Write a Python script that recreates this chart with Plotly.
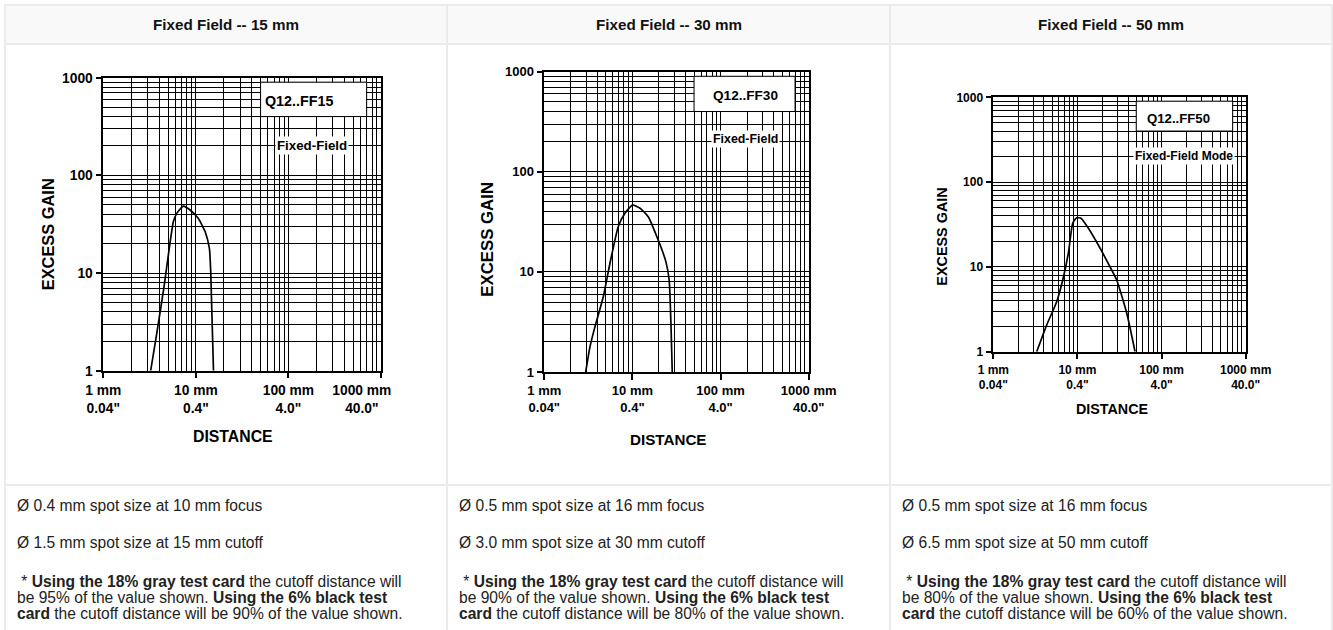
import math
import plotly.graph_objects as go

W, H = 1333, 630

# ---------------- data ----------------
headers = ["Fixed Field -- 15 mm", "Fixed Field -- 30 mm", "Fixed Field -- 50 mm"]
models = ["Q12..FF15", "Q12..FF30", "Q12..FF50"]
modes = ["Fixed-Field", "Fixed-Field", "Fixed-Field Mode"]

ff15_dist = [3.25, 3.78, 4.53, 5.71, 6.22, 7.33, 8.65, 10.6, 12.6, 14.0, 14.5, 15.5]
ff15_gain = [1, 2.41, 7.24, 33.5, 40.8, 48.5, 44.2, 36.3, 26.5, 17.9, 9.9, 1]

ff30_dist = [2.95, 3.30, 3.76, 4.67, 5.56, 6.9, 8.22, 10.05, 12.2, 15.1, 19.6, 24.0, 26.1, 28.3]
ff30_gain = [1, 1.79, 2.84, 5.65, 12.2, 28.3, 38.5, 46.6, 43.2, 35.6, 20.8, 12.6, 8.3, 1]

ff50_dist = [3.28, 4.31, 5.67, 6.69, 7.8, 8.79, 9.8, 11.0, 13.5, 18.6, 24.4, 29.3, 38.6, 48.4]
ff50_gain = [1, 2.06, 3.89, 7.0, 14.5, 32.7, 38, 37.4, 28.5, 16.6, 10, 7.0, 2.84, 1]

x_tickvals = [1, 10, 100, 1000]
x_ticktext = ['1 mm<br>0.04"', '10 mm<br>0.4"', '100 mm<br>4.0"', '1000 mm<br>40.0"']
y_tickvals = [1, 10, 100, 1000]
y_ticktext = ["1", "10", "100", "1000"]
minor_vals = [m * 10 ** e for e in range(3) for m in range(2, 10)]

spot_focus = ["Ø 0.4 mm spot size at 10 mm focus",
              "Ø 0.5 mm spot size at 16 mm focus",
              "Ø 0.5 mm spot size at 16 mm focus"]
spot_cutoff = ["Ø 1.5 mm spot size at 15 mm cutoff",
               "Ø 3.0 mm spot size at 30 mm cutoff",
               "Ø 6.5 mm spot size at 50 mm cutoff"]
gray_pct = ["95%", "90%", "80%"]
black_pct = ["90%", "80%", "60%"]

# white label box region (data coords)
box_x = [50, 700]
box_y = [400, 900]

# ---------------- layout geometry (pixels) ----------------
def px(x):
    return x / W

def py(y):
    return 1 - y / H

areas = [(103.3, 381.0, 77.7, 370.7),
         (544.3, 808.7, 71.7, 372.0),
         (993.3, 1245.7, 97.3, 351.7)]
tick_font = [13.8, 13, 12]
ygain_font = [16.4, 16.8, 14.4]
dist_font = [15.8, 15.2, 14.3]
model_font = [14.3, 13.6, 13.2]
mode_font = [13.3, 12.4, 12]
ylabel_pos = [(48.3, 234), (486.7, 239), (941.7, 237)]
dist_pos = [(233.3, 436.7), (668.3, 439), (1111.7, 409)]
model_pos = [(130, 580), (193, 585), (158, 565)]
mode_pos = [(179, 203), (191, 211), (184, 203)]
# the first chart's last distance label sits left of its tick in the reference
last_label_pad = [10, 0, 0]

BOLD = "Liberation Sans, Arial, Helvetica, sans-serif"
BODY = "Liberation Sans, Arial, Helvetica, sans-serif"

fig = go.Figure()
series = [(ff15_dist, ff15_gain), (ff30_dist, ff30_gain), (ff50_dist, ff50_gain)]

shapes = []
annotations = []

# table frame
border = "#ebebeb"
col_x = [5, 447, 890, 1332]
shapes.append(dict(type="rect", xref="paper", yref="paper", x0=px(5), x1=px(1332), y0=py(44), y1=py(5),
                   fillcolor="#f9f9f9", line=dict(color=border, width=2), layer="below"))
for cx in col_x:
    shapes.append(dict(type="line", xref="paper", yref="paper", x0=px(cx), x1=px(cx), y0=py(5), y1=py(640),
                       line=dict(color=border, width=2)))
shapes.append(dict(type="line", xref="paper", yref="paper", x0=px(5), x1=px(1332), y0=py(485), y1=py(485),
                   line=dict(color=border, width=2)))

for i, (dx, gy) in enumerate(series):
    n = "" if i == 0 else str(i + 1)
    xa, ya = "x" + n, "y" + n
    l, r, t, b = areas[i]
    fig.add_trace(go.Scatter(x=dx, y=gy, mode="lines", xaxis=xa, yaxis=ya,
                             line=dict(color="black", width=1.7, shape="spline", smoothing=0.5),
                             showlegend=False, hoverinfo="skip"))
    tf = dict(family=BOLD, size=tick_font[i], color="black", weight="bold")
    axis_common = dict(type="log", range=[0, 3], showline=True, linecolor="black", linewidth=1.5,
                       mirror=True, showgrid=True, gridcolor="black", gridwidth=1,
                       ticks="outside", ticklen=6, tickcolor="black", tickwidth=1.5,
                       minor=dict(tickvals=minor_vals, showgrid=True, gridcolor="black", gridwidth=1, ticks=""),
                       zeroline=False, fixedrange=True, automargin=False, tickfont=tf)
    xt = list(x_ticktext)
    pad = "&nbsp;" * last_label_pad[i]
    xt[-1] = "<br>".join(part + pad for part in xt[-1].split("<br>"))
    fig.update_layout(**{
        "xaxis" + n: dict(axis_common, domain=[px(l), px(r)], anchor=ya,
                          tickvals=x_tickvals, ticktext=xt),
        "yaxis" + n: dict(axis_common, domain=[py(b), py(t)], anchor=xa,
                          tickvals=y_tickvals, ticktext=y_ticktext),
    })
    shapes.append(dict(type="rect", xref=xa, yref=ya, x0=box_x[0], x1=box_x[1], y0=box_y[0], y1=box_y[1],
                       fillcolor="white", line=dict(color="black", width=1), layer="between"))
    annotations.append(dict(xref=xa, yref=ya, x=math.log10(model_pos[i][0]), y=math.log10(model_pos[i][1]),
                            text="<b>" + models[i] + "</b>", showarrow=False, xanchor="center",
                            font=dict(family=BOLD, size=model_font[i], color="black")))
    annotations.append(dict(xref=xa, yref=ya, x=math.log10(mode_pos[i][0]), y=math.log10(mode_pos[i][1]),
                            text="<b>" + modes[i] + "</b>", showarrow=False, bgcolor="white", borderpad=1,
                            xanchor="center", font=dict(family=BOLD, size=mode_font[i], color="black")))
    annotations.append(dict(xref="paper", yref="paper", x=px(ylabel_pos[i][0]), y=py(ylabel_pos[i][1]),
                            text="<b>EXCESS GAIN</b>", textangle=-90, showarrow=False,
                            xanchor="center", yanchor="middle",
                            font=dict(family=BOLD, size=ygain_font[i], color="black")))
    annotations.append(dict(xref="paper", yref="paper", x=px(dist_pos[i][0]), y=py(dist_pos[i][1]),
                            text="<b>DISTANCE</b>", showarrow=False, xanchor="center", yanchor="middle",
                            font=dict(family=BOLD, size=dist_font[i], color="black")))
    # header
    cxm = (col_x[i] + col_x[i + 1]) / 2
    annotations.append(dict(xref="paper", yref="paper", x=px(cxm), y=py(25), text="<b>" + headers[i] + "</b>",
                            showarrow=False, xanchor="center", yanchor="middle",
                            font=dict(family=BODY, size=15.2, color="#111")))
    # body text
    x0 = col_x[i] + 10
    lines = [(505, spot_focus[i]), (542, spot_cutoff[i]),
             (581, " * <b>Using the 18% gray test card</b> the cutoff distance will"),
             (597, "be " + gray_pct[i] + " of the value shown. <b>Using the 6% black test</b>"),
             (613, "<b>card</b> the cutoff distance will be " + black_pct[i] + " of the value shown.")]
    for yy, txt in lines:
        annotations.append(dict(xref="paper", yref="paper", x=px(x0), y=py(yy), text=txt, showarrow=False,
                                xanchor="left", yanchor="middle", align="left",
                                font=dict(family=BODY, size=15.6, color="#222")))

fig.update_layout(width=W, height=H, margin=dict(l=0, r=0, t=0, b=0),
                  paper_bgcolor="white", plot_bgcolor="white",
                  shapes=shapes, annotations=annotations, showlegend=False)

fig.write_html("out.html", config={"displayModeBar": False},
               post_script="document.body.style.margin='0';document.body.style.overflow='hidden';")
